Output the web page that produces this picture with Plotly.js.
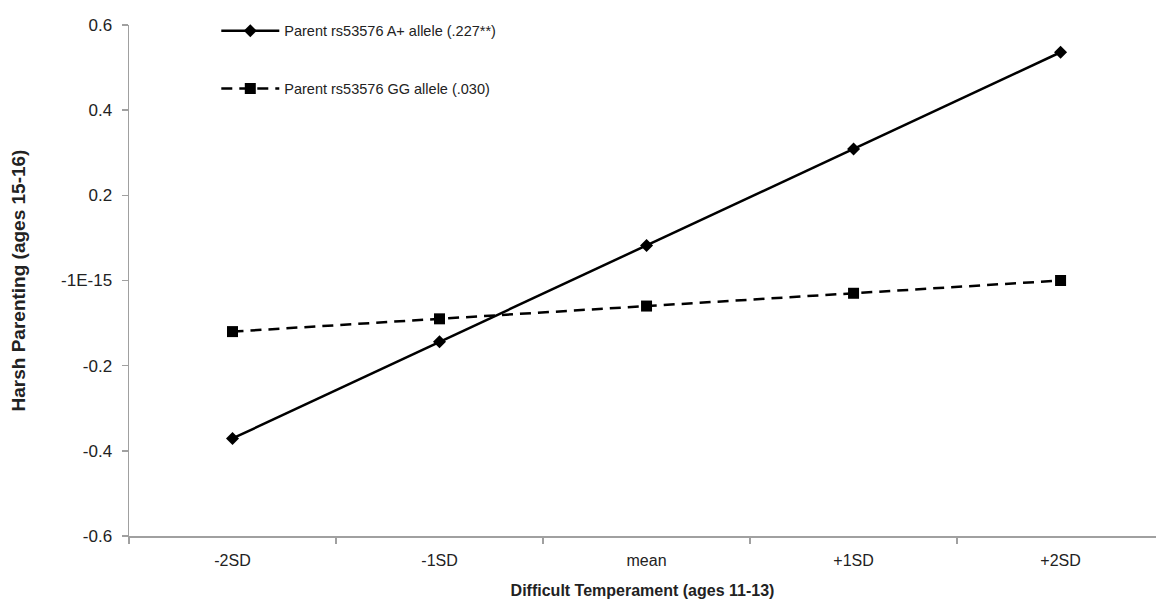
<!DOCTYPE html>
<html>
<head>
<meta charset="utf-8">
<script src="https://cdn.plot.ly/plotly-3.0.1.min.js"></script>
<style>html,body{margin:0;padding:0;background:#fff;}#chart{width:1156px;height:610px;}</style>
</head>
<body>
<div id="chart"></div>
<script>
const categories = ["-2SD", "-1SD", "mean", "+1SD", "+2SD"];
const seriesAplus = [-0.371, -0.144, 0.082, 0.309, 0.536];
const seriesGG = [-0.12, -0.09, -0.06, -0.03, 0.0];
const nameAplus = "Parent rs53576 A+ allele (.227**)";
const nameGG = "Parent rs53576 GG allele (.030)";
const yTickVals = [-0.6, -0.4, -0.2, 0, 0.2, 0.4, 0.6];
const yTickText = ["-0.6", "-0.4", "-0.2", "-1E-15", "0.2", "0.4", "0.6"];

const FONT = "Liberation Sans, Arial, sans-serif";

const traces = [
  {
    x: categories, y: seriesAplus, name: nameAplus, type: "scatter", mode: "lines+markers",
    legendgroup: "a",
    line: {color: "#000", width: 2.5},
    marker: {symbol: "diamond", size: 10, color: "#000"}
  },
  {
    x: categories, y: seriesGG, name: nameGG, type: "scatter", mode: "lines+markers",
    legendgroup: "b",
    line: {color: "#000", width: 2.5, dash: "11px,7px"},
    marker: {symbol: "square", size: 11, color: "#000"}
  }
];

const layout = {
  width: 1156, height: 610,
  margin: {l: 129, r: 0, t: 25, b: 74},
  paper_bgcolor: "#fff", plot_bgcolor: "#fff",
  font: {family: FONT, size: 15, color: "#222"},
  showlegend: true,
  legend: {
    x: 0.085, y: 1.02, xanchor: "left", yanchor: "top",
    bgcolor: "rgba(0,0,0,0)", borderwidth: 0,
    font: {family: FONT, size: 14.5, color: "#222"},
    traceorder: "grouped", tracegroupgap: 36, itemwidth: 58
  },
  xaxis: {
    type: "category", range: [-0.5, 4.461],
    showgrid: false, zeroline: false,
    showline: true, linecolor: "#a0a0a0", linewidth: 1.5,
    ticks: "outside", tickson: "boundaries", ticklen: 6, tickcolor: "#a0a0a0", tickwidth: 1.5,
    ticklabelstandoff: 9,
    tickfont: {family: FONT, size: 16, color: "#222"},
    automargin: false,
    title: {text: "<b>Difficult Temperament (ages 11-13)</b>", font: {family: FONT, size: 16, color: "#222"}, standoff: 17}
  },
  yaxis: {
    range: [-0.6, 0.6],
    tickvals: yTickVals, ticktext: yTickText,
    showgrid: false, zeroline: false,
    showline: true, linecolor: "#a0a0a0", linewidth: 1.5,
    ticks: "outside", ticklen: 6, tickcolor: "#a0a0a0", tickwidth: 1.5,
    ticklabelstandoff: 6,
    tickfont: {family: FONT, size: 17, color: "#222"},
    automargin: false,
    title: {text: "<b>Harsh Parenting (ages 15-16)</b>", font: {family: FONT, size: 19, color: "#222"}, standoff: 30}
  }
};

Plotly.newPlot("chart", traces, layout, {displayModeBar: false, staticPlot: true});
</script>
</body>
</html>
